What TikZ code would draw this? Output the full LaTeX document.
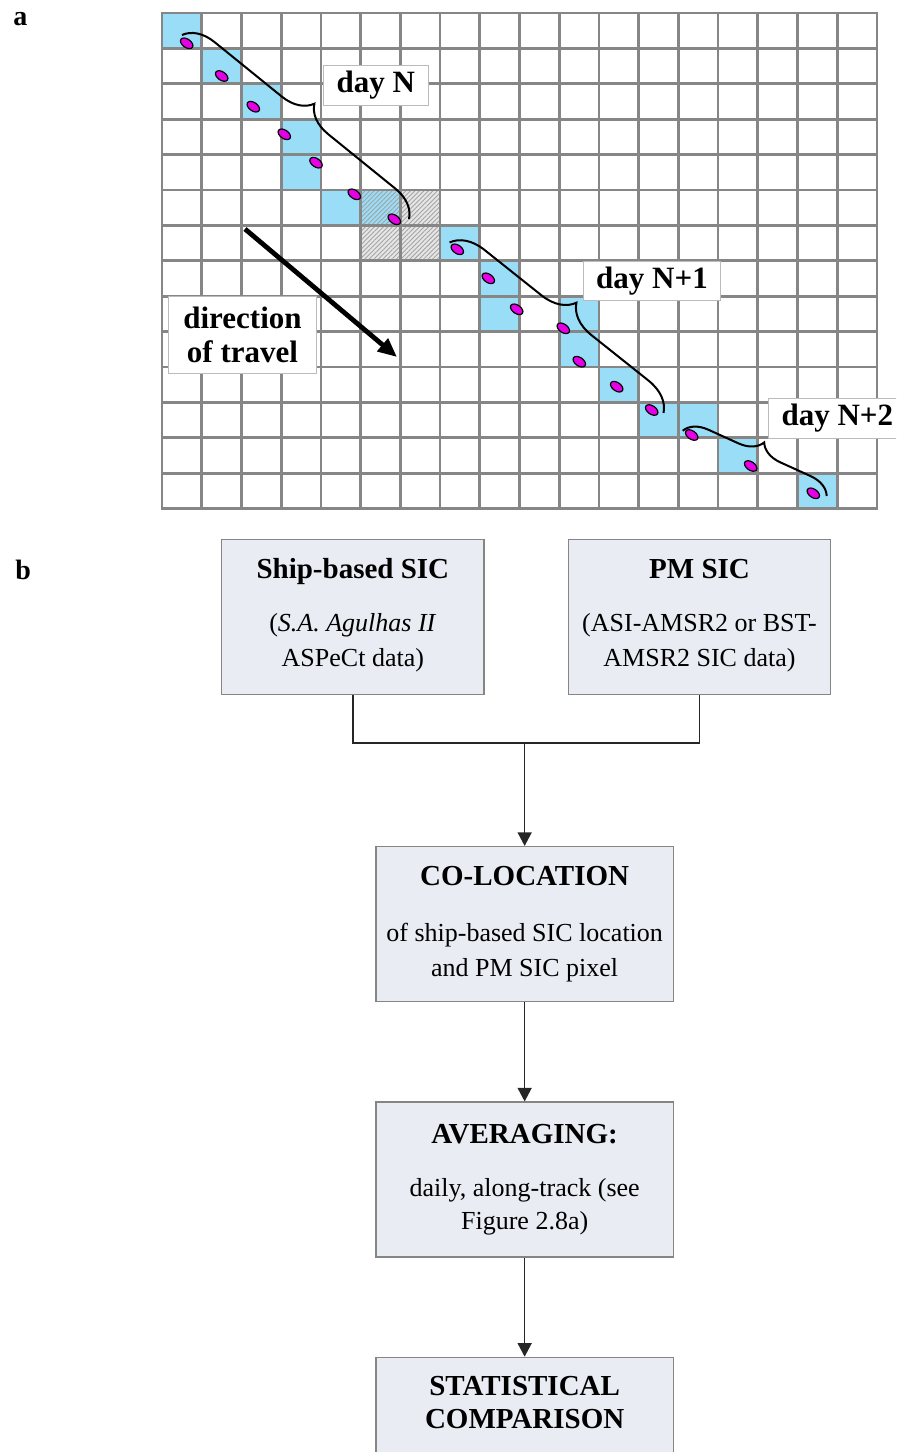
\documentclass[tikz,border=0pt]{standalone}
\usepackage{fontspec}
\setmainfont{Liberation Serif}
\usetikzlibrary{arrows.meta,shapes.geometric,patterns.meta,decorations.pathreplacing}

\definecolor{cellblue}{HTML}{99DDF7}
\definecolor{gridgray}{HTML}{868686}
\definecolor{hatchbg}{HTML}{E6E6E6}
\definecolor{hatchln}{HTML}{A4A4A4}
\definecolor{dotmag}{HTML}{E600E6}
\definecolor{boxfill}{HTML}{E9ECF2}
\definecolor{boxline}{HTML}{858585}
\definecolor{tagline}{HTML}{BBBBBB}

\begin{document}
\begin{tikzpicture}[x=0.5pt,y=-0.5pt,
  gridline/.style={draw=gridgray,line width=1.35pt,line cap=rect},
  hatchcell/.style={pattern={Lines[angle=45,distance=1.6pt,line width=0.45pt]},pattern color=hatchln},
  dot/.style={ellipse,draw=black,line width=0.6pt,fill=dotmag,minimum width=7pt,
    minimum height=4.2pt,inner sep=0pt,rotate=-35},
  daybrace/.style={draw=black,line width=1pt,decorate,decoration={brace,amplitude=#1}},
  tag/.style={draw=tagline,line width=0.5pt,fill=white,inner sep=0pt,
    font=\fontsize{15.5}{17}\selectfont\bfseries,text height=11pt,text depth=3.4pt},
  travelbox/.style={draw=tagline,line width=0.5pt,fill=white,inner sep=0pt,align=center,
    font=\fontsize{15.5}{16.7}\selectfont\bfseries,minimum width=74.2pt,minimum height=38.35pt},
  travel/.style={-{Triangle[length=9.5pt,width=8pt]},line width=2.4pt},
  panel/.style={font=\fontsize{14}{16}\selectfont\bfseries,anchor=base west,inner sep=0pt},
  stepbox/.style={draw=boxline,line width=0.75pt,fill=boxfill,minimum width=#1,
    minimum height=77.5pt,inner sep=0pt},
  head/.style={font=\fontsize{14.5}{18}\selectfont\bfseries,anchor=base,inner sep=0pt},
  body/.style={font=\fontsize{13}{16}\selectfont,anchor=base,inner sep=0pt},
  flow/.style={draw=black!85,line width=0.75pt},
  flowarrow/.style={flow,-{Triangle[length=6.8pt,width=7pt]}},
]
\useasboundingbox (0,0) rectangle (896,1452);
\clip (0,0) rectangle (896,1452);

% ---------- panel a: pixel grid along the ship track ----------
\def\gx{162}\def\gy{13}\def\cw{39.72}\def\ch{35.4}

% pixels containing ship observations
\foreach \c/\r in {0/0,1/1,2/2,3/3,3/4,4/5,7/6,8/7,8/8,10/8,10/9,11/10,12/11,13/11,14/12,16/13}
  \fill[cellblue] ({\gx+\c*\cw},{\gy+\r*\ch}) rectangle ++(\cw,\ch);

% hatched pixels at the day boundary
\fill[cellblue] ({\gx+5*\cw},{\gy+5*\ch}) rectangle ++(\cw,\ch);
\foreach \c/\r in {6/5,5/6,6/6}
  \fill[hatchbg] ({\gx+\c*\cw},{\gy+\r*\ch}) rectangle ++(\cw,\ch);
\foreach \c/\r in {5/5,6/5,5/6,6/6}
  \fill[hatchcell] ({\gx+\c*\cw},{\gy+\r*\ch}) rectangle ++(\cw,\ch);

% grid lines
\foreach \i in {0,...,18}
  \draw[gridline] ({\gx+\i*\cw},\gy) -- ({\gx+\i*\cw},{\gy+14*\ch});
\foreach \j in {0,...,14}
  \draw[gridline] (\gx,{\gy+\j*\ch}) -- ({\gx+18*\cw},{\gy+\j*\ch});

% ship positions
\foreach \px/\py [count=\k] in {186.7/43.3,221.7/76,253.3/106.7,284.3/134.3,316/162.7,
    354.3/194.3,394.3/219.3,457.3/249.3,488.3/278.3,516.7/309.3,563.3/328.3,579.3/361.7,
    616.7/386.7,651.7/410,691.7/435,750.7/466,813.3/493.3}
  \node[dot] (d\k) at (\px,\py) {};

% daily braces
\coordinate (n0s) at (182,35);    \coordinate (n0e) at (409,219);
\coordinate (n1s) at (449.5,242.5); \coordinate (n1e) at (663.5,413);
\coordinate (n2s) at (682.7,430.7); \coordinate (n2e) at (826.7,496);
\draw[daybrace=15pt] (n0s) -- (n0e);
\draw[daybrace=16pt] (n1s) -- (n1e);
\draw[daybrace=11.5pt] (n2s) -- (n2e);

% day labels
\node[tag,minimum width=52.5pt,minimum height=20pt] (dayN) at (375.8,85) {day N};
\node[tag,minimum width=68.5pt,minimum height=19.5pt] (dayN1) at (652,281.2) {day N+1};
\node[tag,minimum width=68.5pt,minimum height=20pt,anchor=west] (dayN2) at (768.3,418.3) {day N+2};

% direction of travel
\node[travelbox] (dirbox) at (242.5,335) {direction\\of travel};
\coordinate (tstart) at (245,229);
\coordinate (tend) at (397,357);
\draw[travel] (tstart) -- (tend);

\node[panel] (pa) at (13,25) {a};

% ---------- panel b: processing flow ----------
\node[panel] (pb) at (15,579) {b};

\node[stepbox=131.15pt] (ship) at (352.85,616.8) {};
\node[stepbox=131.2pt] (pm) at (699.5,616.8) {};
\node[stepbox=148.65pt] (coloc) at (524.65,924.2) {};
\node[stepbox=148.65pt] (avg) at (524.65,1179.7) {};
\node[stepbox=148.65pt,anchor=north] (stat) at (524.65,1356.7) {};

\node[head] (shipH) at (352.85,578) {Ship-based SIC};
\node[body] (shipL1) at (352.85,631.7) {(\textit{S.A. Agulhas II}};
\node[body] (shipL2) at (352.85,666.7) {ASPeCt data)};

\node[head] (pmH) at (699.5,578) {PM SIC};
\node[body] (pmL1) at (699.5,631.7) {(ASI-AMSR2 or BST-};
\node[body] (pmL2) at (699.5,666.7) {AMSR2 SIC data)};

\node[head] (colocH) at (524.65,885) {CO-LOCATION};
\node[body] (colocL1) at (524.65,941.7) {of ship-based SIC location};
\node[body] (colocL2) at (524.65,976.7) {and PM SIC pixel};

\node[head] (avgH) at (524.65,1143.3) {AVERAGING:};
\node[body] (avgL1) at (524.65,1196) {daily, along-track (see};
\node[body] (avgL2) at (524.65,1229) {Figure 2.8a)};

\node[head] (statH1) at (524.65,1395) {STATISTICAL};
\node[head] (statH2) at (524.65,1428) {COMPARISON};

% connectors
\coordinate (join) at (524.65,743);
\draw[flow] (ship.south) |- (join) -| (pm.south);
\draw[flowarrow] (join) -- (coloc.north);
\draw[flowarrow] (coloc.south) -- (avg.north);
\draw[flowarrow] (avg.south) -- (stat.north);
\end{tikzpicture}
\end{document}
